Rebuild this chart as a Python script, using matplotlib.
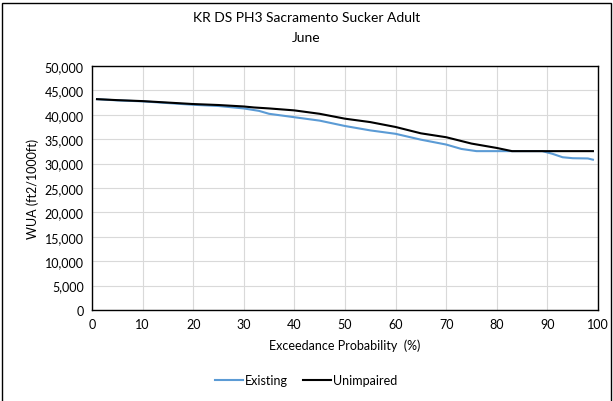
import numpy as np
from matplotlib import pyplot as plt
from matplotlib.patches import Rectangle

# exceedance probability (%) and WUA values
unimp_x = [1, 5, 10, 15, 20, 25, 30, 32, 35, 40, 45, 50, 55, 60, 65, 70, 75, 80, 83, 90, 99]
unimp_y = [43200, 43000, 42800, 42500, 42200, 42000, 41700, 41500, 41300, 40900, 40200,
           39200, 38500, 37500, 36200, 35400, 34100, 33200, 32550, 32550, 32550]

exist_x = [1, 5, 10, 15, 20, 25, 30, 33, 35, 40, 45, 50, 55, 60, 65, 70, 73, 76,
           89, 91, 93, 95, 98, 99]
exist_y = [43200, 42950, 42750, 42400, 42050, 41800, 41300, 40800, 40200, 39500, 38800,
           37700, 36800, 36100, 34900, 33900, 33000, 32550, 32550, 32000, 31300, 31100,
           31050, 30800]

xticks = np.arange(0, 101, 10)
yticks = np.arange(0, 50001, 5000)

plt.rcParams['font.family'] = ['Lato', 'DejaVu Sans']

fig = plt.figure(figsize=(6.13, 4.02), dpi=100)
ax = fig.add_axes([0.150, 0.2264, 0.8255, 0.607])

ax.plot(exist_x, exist_y, color='#5b9bd5', lw=1.5, label='Existing')
ax.plot(unimp_x, unimp_y, color='black', lw=1.5, label='Unimpaired')

ax.set_xlim(0, 100)
ax.set_ylim(0, 50000)
ax.set_xticks(xticks)
ax.set_yticks(yticks)
ax.set_yticklabels(['{:,}'.format(v) for v in yticks])
ax.tick_params(length=0, labelsize=9, pad=6)
ax.grid(True, color='#d9d9d9', lw=0.8)
ax.set_axisbelow(True)
for s in ax.spines.values():
    s.set_color('black')
    s.set_linewidth(1.0)

ax.set_xlabel('Exceedance Probability  (%)', fontsize=9, labelpad=6)
ax.set_ylabel('WUA (ft2/1000ft)', fontsize=9)
fig.text(0.5, 0.955, 'KR DS PH3 Sacramento Sucker Adult', ha='center', va='center', fontsize=10)
fig.text(0.5, 0.905, 'June', ha='center', va='center', fontsize=10)

fig.legend(loc='center', bbox_to_anchor=(0.5, 0.052), ncol=2, frameon=False,
           fontsize=9, handlelength=2.2, columnspacing=1.2, handletextpad=0.2)

# outer chart border
fig.patches.append(Rectangle((0.003, -0.01), 0.994, 1.0, transform=fig.transFigure,
                             fill=False, edgecolor='black', lw=1.0))

plt.savefig('out.png', dpi=100)
